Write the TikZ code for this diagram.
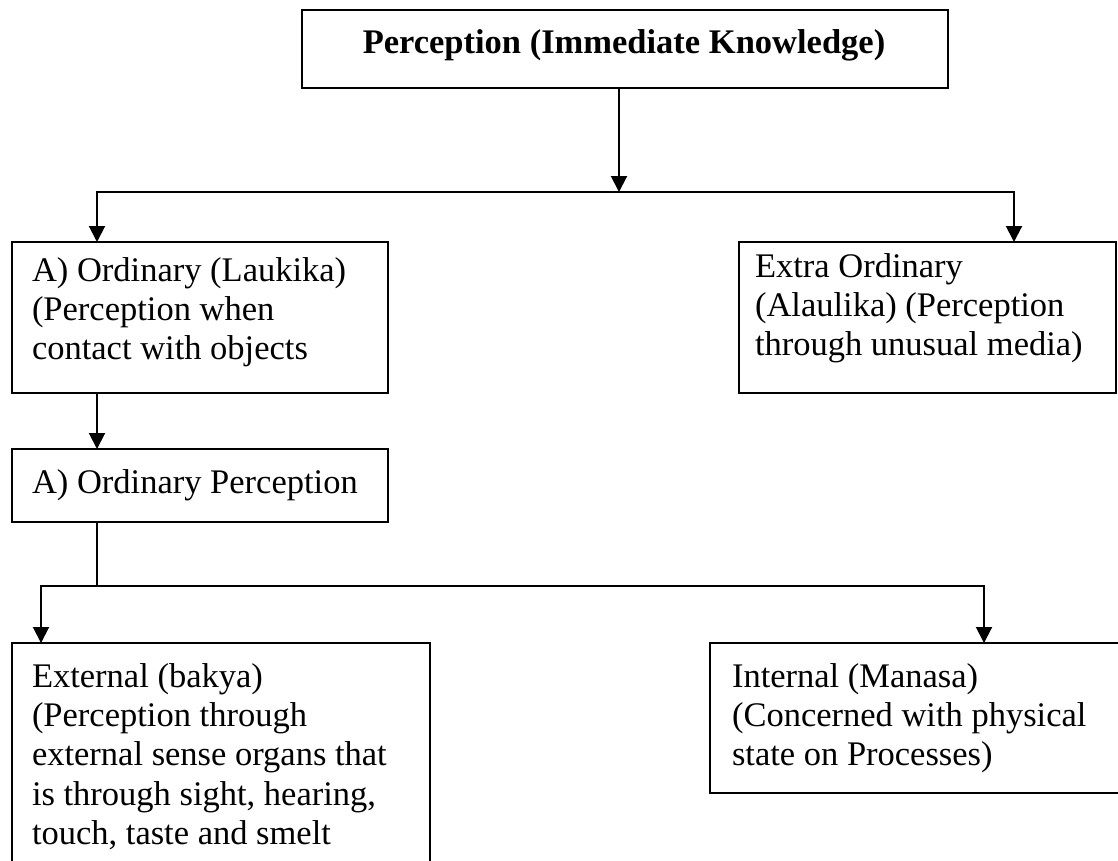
\documentclass[tikz,border=0pt]{standalone}
\usepackage{fontspec}
\setmainfont{Liberation Serif}
\usetikzlibrary{arrows.meta,calc}
\begin{document}
\begin{tikzpicture}[x=1pt,y=-1pt,
  box/.style={draw, line width=2pt, rectangle, inner sep=0pt, outer sep=0pt, anchor=north west},
  txt/.style={inner sep=0pt, outer sep=0pt, anchor=base west, font=\fontsize{34.5}{39.4}\selectfont},
  conn/.style={line width=2pt},
  arr/.style={conn, -{Triangle[width=16pt,length=16pt]}}]
\useasboundingbox (0,0) rectangle (1118,860);
\clip (0,0) rectangle (1118,860);
\fill[white] (0,0) rectangle (1118,860);
% boxes
\node[box, minimum width=646pt, minimum height=78pt] (top) at (302,10) {};
\node[box, minimum width=376pt, minimum height=151pt] (ord) at (12,242) {};
\node[box, minimum width=377pt, minimum height=151pt] (extra) at (739,242) {};
\node[box, minimum width=376pt, minimum height=73pt] (ordp) at (12,449) {};
\node[box, minimum width=418pt, minimum height=300pt] (ext) at (12,643) {};
\node[box, minimum width=460pt, minimum height=150pt] (int) at (710,643) {};
% texts
\node[txt, anchor=base, font=\fontsize{34.5}{39.4}\selectfont\bfseries] (topT) at (624,53) {Perception (Immediate Knowledge)};
\node[txt] (ordT) at (32,281) {\parbox[t]{420pt}{A) Ordinary (Laukika)\\(Perception when\\contact with objects}};
\node[txt] (extraT) at (755,277) {\parbox[t]{420pt}{Extra Ordinary\\(Alaulika) (Perception\\through unusual media)}};
\node[txt] (ordpT) at (32,493) {A) Ordinary Perception};
\node[txt] (extT) at (32,687) {\parbox[t]{420pt}{External (bakya)\\(Perception through\\external sense organs that\\is through sight, hearing,\\touch, taste and smelt}};
\node[txt] (intT) at (732,687) {\parbox[t]{420pt}{Internal (Manasa)\\(Concerned with physical\\state on Processes)}};
% connectors
\coordinate (jL) at (97,192);
\coordinate (jM) at (619,192);
\coordinate (jR) at (1014,192);
\draw[arr] (top.south -| jM) -- (jM);
\draw[arr] (jM) -- (jL) -- (jL |- ord.north);
\draw[arr] (jM) -- (jR) -- (jR |- extra.north);
\draw[arr] (ord.south -| jL) -- (ordp.north -| jL);
\coordinate (kM) at (97,586);
\coordinate (kL) at (41,586);
\coordinate (kR) at (984,586);
\draw[conn] (ordp.south -| kM) -- (kM);
\draw[arr] (kM) -- (kL) -- (kL |- ext.north);
\draw[arr] (kM) -- (kR) -- (kR |- int.north);
\end{tikzpicture}
\end{document}
